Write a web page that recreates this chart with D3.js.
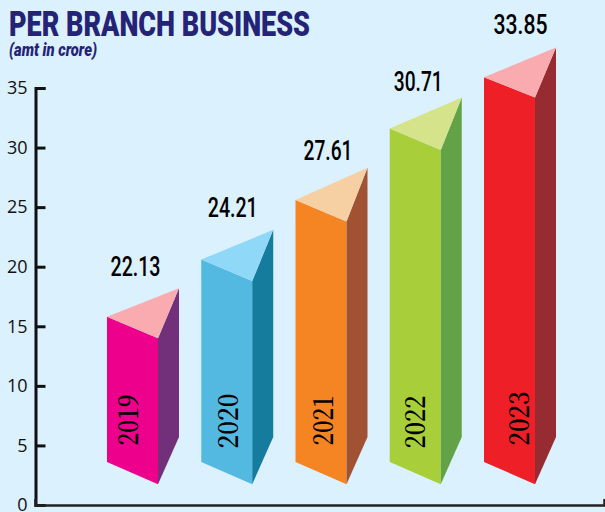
<!DOCTYPE html>
<html>
<head>
<meta charset="utf-8">
<script src="https://cdn.jsdelivr.net/npm/d3@7"></script>
<style>
html, body { margin: 0; padding: 0; background: #dcf1fe; overflow: hidden; }
svg { display: block; }
.year { font-family: "Noto Serif CJK SC", "Liberation Serif", serif; font-size: 28px; font-weight: 600; fill: #000; }
</style>
</head>
<body>
<svg></svg>
<script>
var width = 605,
    height = 512

// what the labels say
var years = ["2019", "2020", "2021", "2022", "2023"]
var amounts = ["22.13", "24.21", "27.61", "30.71", "33.85"]
var axisTicks = [0, 5, 10, 15, 20, 25, 30, 35]

// the drawn prism is not to scale with its label, so these are read off the y axis
var topLeft = [15.8, 20.6, 25.6, 31.6, 35.9]
var topFront = [14.0, 18.8, 23.8, 29.8, 34.2]
var topBack = [18.2, 23.1, 28.3, 34.2, 38.4]
var baseLeft = [3.6, 3.6, 3.6, 3.6, 3.6]
var baseFront = [1.75, 1.75, 1.75, 1.75, 1.75]
var baseBack = [5.7, 5.7, 5.7, 5.7, 5.7]

var frontColors = ["#ec008c", "#54b9e0", "#f58423", "#a8cf3a", "#ee1f26"]
var sideColors = ["#72307a", "#157c9e", "#a05233", "#63a246", "#962b31"]
var roofColors = ["#f9abb0", "#8fd8f8", "#f6cfa3", "#d5e38b", "#f9abb0"]

var depth = 21
var amountNudge = [{x: 3, y: -12}, {x: 6, y: -13}, {x: 7, y: -8}, {x: 3, y: -7}, {x: 11, y: -13}]
var amountWidth = [50, 50, 49, 49, 54]
var yearBaseline = [31, 37, 37, 35, 45]
var yearLength = [51, 55, 50, 53, 54]

var y = d3.scaleLinear().domain([0, 35]).range([505, 88])
var x = d3.scaleBand().domain(years).range([107, 535]).paddingInner(0.459)

var svg = d3.select("svg")
    .attr("width", width)
    .attr("height", height)

svg.append("rect")
    .attr("width", width)
    .attr("height", height)
    .attr("fill", "#dcf1fe")

svg.append("text")
    .attr("x", 9)
    .attr("y", 36)
    .attr("textLength", 301)
    .attr("lengthAdjust", "spacingAndGlyphs")
    .attr("font-family", "Roboto")
    .attr("font-weight", 900)
    .attr("font-size", 35)
    .attr("fill", "#252375")
    .text("PER BRANCH BUSINESS")

svg.append("text")
    .attr("x", 9)
    .attr("y", 56)
    .attr("textLength", 88)
    .attr("lengthAdjust", "spacingAndGlyphs")
    .attr("font-family", "Roboto")
    .attr("font-weight", 900)
    .attr("font-style", "italic")
    .attr("font-size", 18)
    .attr("fill", "#252375")
    .text("(amt in crore)")

var yAxis = d3.axisLeft(y)
    .tickValues(axisTicks)
    .tickFormat(d3.format("d"))
    .tickSize(-10)
    .tickPadding(8)

var gy = svg.append("g")
    .attr("transform", "translate(35.5,0)")
    .call(yAxis)

gy.selectAll("path, line")
    .attr("stroke", "#111")
    .attr("stroke-width", 3)
gy.selectAll("text")
    .attr("font-family", "Open Sans")
    .attr("font-size", 18)
    .attr("fill", "#111")

// x axis has no labels, only the long rule and a small end mark
var xRule = d3.axisBottom(d3.scaleLinear().domain([0, 1]).range([35, 604]))
    .tickValues([])
    .tickSizeOuter(-6)

var gx = svg.append("g")
    .attr("transform", "translate(0," + y(0) + ")")
    .call(xRule)
gx.select("path")
    .attr("fill", "none")
    .attr("stroke", "#222")
    .attr("stroke-width", 2.5)

var bars = svg.selectAll(".bar").data(years).enter().append("g").attr("class", "bar")

function poly(points) {
    return d3.line()(points)
}

bars.append("path")
    .attr("fill", (d, i) => frontColors[i])
    .attr("d", (d, i) => {
        var l = x(d), r = l + x.bandwidth()
        return poly([[l, y(topLeft[i])], [r, y(topFront[i])], [r, y(baseFront[i])], [l, y(baseLeft[i])]]) + "Z"
    })

bars.append("path")
    .attr("fill", (d, i) => sideColors[i])
    .attr("d", (d, i) => {
        var r = x(d) + x.bandwidth()
        return poly([[r, y(topFront[i])], [r + depth, y(topBack[i])], [r + depth, y(baseBack[i])], [r, y(baseFront[i])]]) + "Z"
    })

bars.append("path")
    .attr("fill", (d, i) => roofColors[i])
    .attr("d", (d, i) => {
        var l = x(d), r = l + x.bandwidth()
        return poly([[l, y(topLeft[i])], [r + depth, y(topBack[i])], [r, y(topFront[i])]]) + "Z"
    })

bars.append("text")
    .attr("class", "year")
    .attr("transform", (d, i) => "translate(" + (x(d) + yearBaseline[i]) + "," + (y(5) + 3 * (i % 2)) + ") rotate(-90)")
    .attr("textLength", (d, i) => yearLength[i])
    .attr("lengthAdjust", "spacingAndGlyphs")
    .text(d => d)

bars.append("text")
    .attr("x", (d, i) => x(d) + x.bandwidth() / 2 + amountNudge[i].x)
    .attr("y", (d, i) => y(topBack[i]) + amountNudge[i].y)
    .attr("text-anchor", "middle")
    .attr("textLength", (d, i) => amountWidth[i])
    .attr("lengthAdjust", "spacingAndGlyphs")
    .attr("font-family", "Roboto")
    .attr("font-weight", 500)
    .attr("font-size", 28)
    .attr("fill", "#000")
    .text((d, i) => amounts[i])
</script>
</body>
</html>
